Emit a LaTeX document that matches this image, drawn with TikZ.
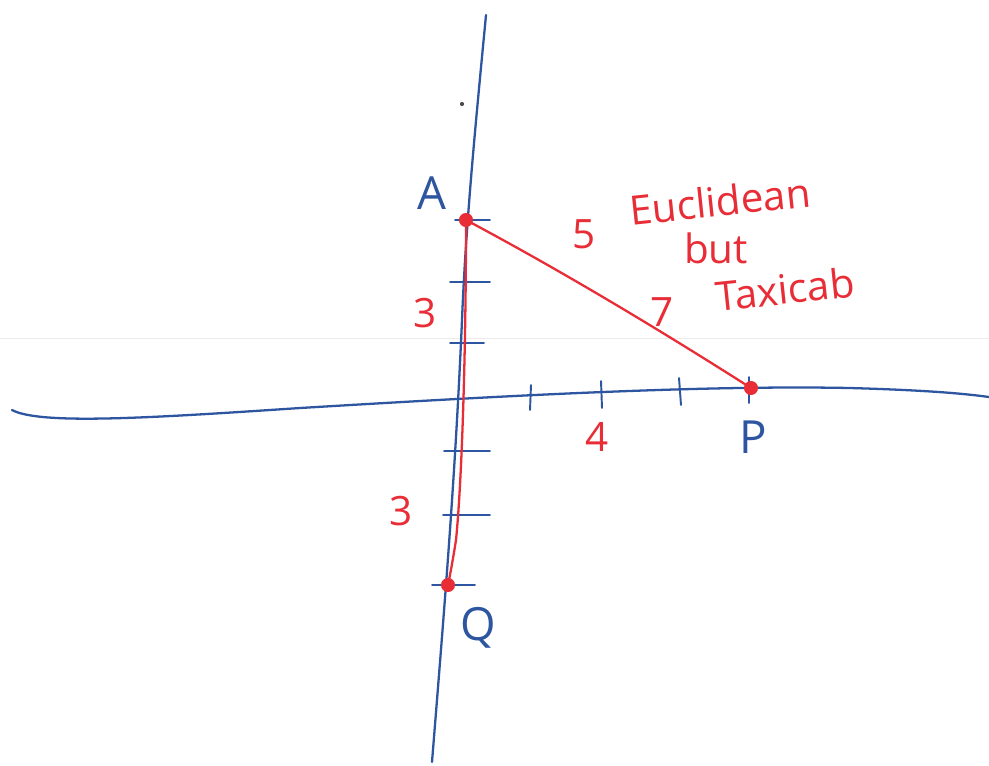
\documentclass[tikz,border=0pt]{standalone}
\usepackage{fontspec}
\setmainfont{Open Sans}
\begin{document}
\begin{tikzpicture}[x=0.02cm,y=-0.02cm,
  axis/.style={draw=penblue,line width=1.3pt,line cap=round},
  tick/.style={draw=penblue,line width=1.1pt,line cap=round},
  redline/.style={draw=penred,line width=1.3pt,line cap=round},
  pt/.style={circle,fill=penred,inner sep=0pt,minimum size=8pt},
  bluelbl/.style={text=penblue,inner sep=0pt,font=\fontsize{26}{28}\selectfont},
  redlbl/.style={text=penred,inner sep=0pt,font=\fontsize{23}{25}\selectfont}]
\definecolor{penblue}{RGB}{45,85,160}
\definecolor{penred}{RGB}{232,45,55}
\useasboundingbox (0,0) rectangle (989,765);
\fill[white] (0,0) rectangle (989,765);
% faint scanner line
\draw[black!8,line width=0.4pt] (0,338) -- (989,338);
% coordinates
\coordinate (ytop) at (486,15);
\coordinate (ybot) at (432,762);
\coordinate (xl) at (12,410);
\coordinate (xr) at (989,397);
% axes
\draw[axis] (ytop) .. controls (476,120) and (466,220) .. (462,320)
  .. controls (455,480) and (445,600) .. (ybot);
\draw[axis] (xl) .. controls (40,425) and (150,418) .. (300,408)
  .. controls (500,396) and (700,385) .. (850,388)
  .. controls (920,390) and (960,393) .. (xr);
% y ticks
\coordinate (ta1) at (455,220); \coordinate (ta2) at (490,220);
\draw[tick] (ta1) -- (ta2);
\coordinate (t11) at (450,282); \coordinate (t12) at (490,282);
\draw[tick] (t11) -- (t12);
\coordinate (t21) at (450,343); \coordinate (t22) at (484,343);
\draw[tick] (t21) -- (t22);
\coordinate (t31) at (444,451); \coordinate (t32) at (490,451);
\draw[tick] (t31) -- (t32);
\coordinate (t41) at (443,515); \coordinate (t42) at (490,515);
\draw[tick] (t41) -- (t42);
\coordinate (t51) at (432,585); \coordinate (t52) at (475,585);
\draw[tick] (t51) -- (t52);
% x ticks
\coordinate (x11) at (531,385); \coordinate (x12) at (530,410);
\draw[tick] (x11) -- (x12);
\coordinate (x21) at (601,381); \coordinate (x22) at (602,408);
\draw[tick] (x21) -- (x22);
\coordinate (x31) at (679,378); \coordinate (x32) at (681,405);
\draw[tick] (x31) -- (x32);
\coordinate (x41) at (749,377); \coordinate (x42) at (749,403);
\draw[tick] (x41) -- (x42);
% small dot
\fill[black!70] (462,104) circle (1.2pt);
% red points
\node[pt] (A) at (466,220) {};
\node[pt] (P) at (751,388) {};
\node[pt] (Q) at (448,585) {};
% red segments
\draw[redline] (A.center) .. controls (560,270) and (660,330) .. (P.center);
\draw[redline] (A.center) .. controls (466,350) and (462,480) .. (456,540)
  .. controls (452,565) and (450,575) .. (Q.center);
% labels
\node[bluelbl] (la) at (432,193) {A};
\node[bluelbl] (lq) at (478,628) {Q};
\node[bluelbl] (lp) at (753,437) {P};
\node[redlbl] (l3a) at (425,313) {3};
\node[redlbl] (l3b) at (401,511) {3};
\node[redlbl] (l4) at (597,437) {4};
\node[redlbl] (l5) at (584,234) {5};
\node[redlbl,rotate=6] (leu) at (720,201) {Euclidean};
\node[redlbl] (lbut) at (716,248) {but};
\node[redlbl] (l7) at (662,312) {7};
\node[redlbl,rotate=6] (ltx) at (785,289) {Taxicab};
\end{tikzpicture}
\end{document}
